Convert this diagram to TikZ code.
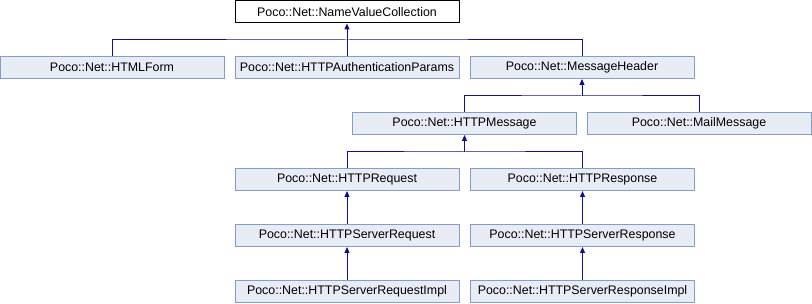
\documentclass[tikz,border=0pt]{standalone}
\usepackage{fontspec}
\setmainfont{Liberation Sans}
\usetikzlibrary{arrows.meta}
\definecolor{boxfill}{HTML}{E8ECF5}
\definecolor{boxedge}{HTML}{849CCC}
\definecolor{edge}{HTML}{10108A}
\begin{document}
\begin{tikzpicture}[
    x=1pt, y=-1pt,
    block/.style={rectangle, draw=boxedge, fill=boxfill, line width=1pt, minimum width=224pt, minimum height=22pt, inner sep=0pt, font=\fontsize{12.4}{14}\selectfont},
    root/.style={block, draw=black, fill=white},
    line/.style={draw=edge, line width=1pt},
    arrow/.style={line, -{Triangle[length=6pt,width=5pt]}}
]
    \useasboundingbox (0,0) rectangle (812,304);

    \node [root]  (nvc)     at (347,12)     {Poco::Net::NameValueCollection};
    \node [block] (form)    at (112,67.5)   {Poco::Net::HTMLForm};
    \node [block] (auth)    at (347,67.5)   {Poco::Net::HTTPAuthenticationParams};
    \node [block] (header)  at (582,67.5)   {Poco::Net::MessageHeader};
    \node [block] (msg)     at (464.5,123.5) {Poco::Net::HTTPMessage};
    \node [block] (mail)    at (699,123.5)  {Poco::Net::MailMessage};
    \node [block] (req)     at (347,179.5)  {Poco::Net::HTTPRequest};
    \node [block] (resp)    at (582.5,179.5) {Poco::Net::HTTPResponse};
    \node [block] (sreq)    at (347,235.5)  {Poco::Net::HTTPServerRequest};
    \node [block] (sresp)   at (582.5,235.5) {Poco::Net::HTTPServerResponse};
    \node [block] (sreqimp) at (347,291.5)  {Poco::Net::HTTPServerRequestImpl};
    \node [block] (srespimp) at (582.5,291.5) {Poco::Net::HTTPServerResponseImpl};

    % joints where the children meet
    \coordinate (busnvc) at (347,40);
    \coordinate (bushdr) at (582,96);
    \coordinate (busmsg) at (464.5,152);

    \draw [line] (form.north) |- (busnvc) -| (header.north);
    \draw [line] (auth.north) -- (busnvc);
    \draw [arrow] (busnvc) -- (nvc.south);

    \draw [line] (msg.north) |- (bushdr) -| (mail.north);
    \draw [arrow] (bushdr) -- (header.south);

    \draw [line] (req.north) |- (busmsg) -| (resp.north);
    \draw [arrow] (busmsg) -- (msg.south);

    \draw [arrow] (sreq) -- (req);
    \draw [arrow] (sreqimp) -- (sreq);
    \draw [arrow] (sresp) -- (resp);
    \draw [arrow] (srespimp) -- (sresp);
\end{tikzpicture}
\end{document}
